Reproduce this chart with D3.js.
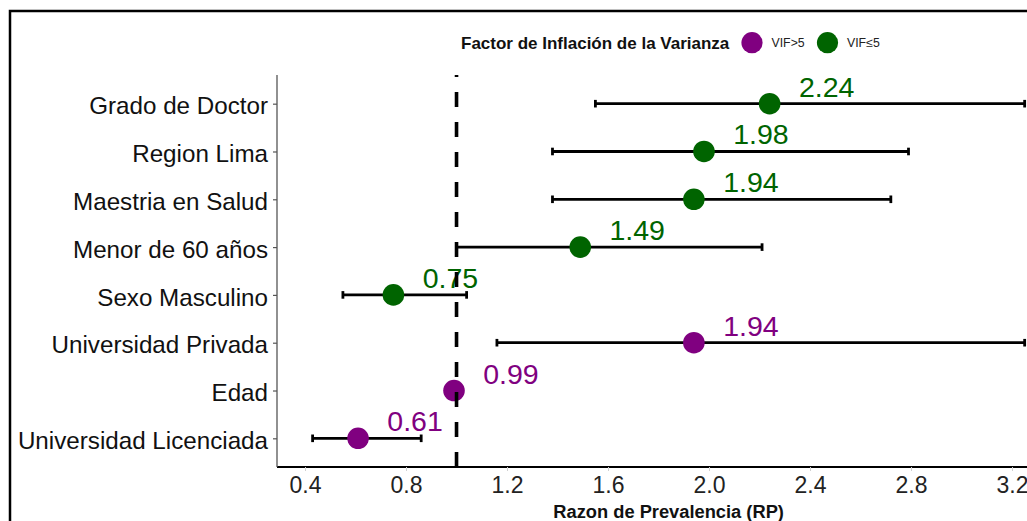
<!DOCTYPE html>
<html>
<head>
<meta charset="utf-8">
<script src="https://cdn.jsdelivr.net/npm/d3@7"></script>
<style>
  html, body { margin: 0; padding: 0; background: #fff; overflow: hidden; }
  svg { display: block; font-family: "Liberation Sans", Arial, sans-serif; }
</style>
</head>
<body>
<svg id="chart" width="1027" height="521"></svg>
<script>
// ---- data ----
const categories = ["Grado de Doctor", "Region Lima", "Maestria en Salud", "Menor de 60 años",
                    "Sexo Masculino", "Universidad Privada", "Edad", "Universidad Licenciada"];
const rp    = [2.24, 1.98, 1.94, 1.49, 0.75, 1.94, 0.99, 0.61];
const lower = [1.55, 1.38, 1.38, 1.00, 0.55, 1.16, 0.98, 0.43];
const upper = [3.25, 2.79, 2.72, 2.21, 1.04, 3.25, 1.00, 0.86];
const vif   = ["VIF≤5", "VIF≤5", "VIF≤5", "VIF≤5", "VIF≤5", "VIF>5", "VIF>5", "VIF>5"];
const vifLevels = ["VIF>5", "VIF≤5"];
const vifColors = ["#800080", "#006400"];
const xTicks = [0.4, 0.8, 1.2, 1.6, 2.0, 2.4, 2.8, 3.2];
const refValue = 1;

const rows = categories.map((c, i) => ({cat: c, rp: rp[i], lo: lower[i], hi: upper[i], vif: vif[i]}));

const svg = d3.select("#chart");
svg.append("rect").attr("width", 1027).attr("height", 521).attr("fill", "#fff");
// outer border
svg.append("rect").attr("x", 10).attr("y", 11).attr("width", 1200).attr("height", 700)
   .attr("fill", "none").attr("stroke", "#000").attr("stroke-width", 2.5);

const pLeft = 277, pTop = 75, pBottom = 467;
const minV = d3.min(lower), maxV = d3.max(upper);
const ext = (maxV - minV) * 0.05;
const x = d3.scaleLinear().domain([minV - ext, maxV + ext]).range([pLeft, pLeft + (maxV - minV + 2 * ext) * 252.5]);
const pRight = x.range()[1];
const y = d3.scalePoint().domain(categories).range([pTop, pBottom]).padding(0.6);
const color = d3.scaleOrdinal().domain(vifLevels).range(vifColors);

// x axis
const xAxis = svg.append("g").attr("transform", `translate(0,${pBottom})`)
  .call(d3.axisBottom(x).tickValues(xTicks).tickFormat(d3.format(".1f")).tickSize(4).tickPadding(6));
xAxis.select(".domain").attr("stroke", "#000").attr("stroke-width", 2)
  .attr("d", `M${pLeft},0H${pRight}`);
xAxis.selectAll(".tick line").attr("stroke", "#d0d0d0").attr("stroke-width", 1);
xAxis.selectAll(".tick text").attr("font-size", 23).attr("fill", "#222")
  .attr("font-family", "'Liberation Sans', Arial, sans-serif");

// y axis
const yAxis = svg.append("g").attr("transform", `translate(${pLeft},0)`)
  .call(d3.axisLeft(y).tickSize(4).tickPadding(5));
yAxis.select(".domain").attr("stroke", "#555").attr("stroke-width", 1.3)
  .attr("d", `M0,${pTop}V${pBottom}`);
yAxis.selectAll(".tick line").attr("stroke", "#555").attr("stroke-width", 1.2);
yAxis.selectAll(".tick text").attr("font-size", 24.2).attr("fill", "#111").attr("dy", "0.42em")
  .attr("font-family", "'Liberation Sans', Arial, sans-serif");

// error bars
const eb = svg.append("g").attr("stroke", "#000").attr("stroke-width", 2.8);
eb.selectAll("line.bar").data(rows).join("line").attr("class", "bar")
  .attr("x1", d => x(d.lo)).attr("x2", d => x(d.hi))
  .attr("y1", d => y(d.cat)).attr("y2", d => y(d.cat));
eb.selectAll("line.capL").data(rows).join("line").attr("class", "capL")
  .attr("x1", d => x(d.lo)).attr("x2", d => x(d.lo))
  .attr("y1", d => y(d.cat) - 3.8).attr("y2", d => y(d.cat) + 3.8);
eb.selectAll("line.capR").data(rows).join("line").attr("class", "capR")
  .attr("x1", d => x(d.hi)).attr("x2", d => x(d.hi))
  .attr("y1", d => y(d.cat) - 3.8).attr("y2", d => y(d.cat) + 3.8);

// points
svg.append("g").selectAll("circle").data(rows).join("circle")
  .attr("cx", d => x(d.rp)).attr("cy", d => y(d.cat)).attr("r", 10.8)
  .attr("fill", d => color(d.vif));

// value labels
svg.append("g").selectAll("text").data(rows).join("text")
  .attr("x", d => x(d.rp) + 57).attr("y", d => y(d.cat) - 7)
  .attr("text-anchor", "middle").attr("font-size", 28.5)
  .attr("fill", d => color(d.vif)).text(d => d3.format(".2f")(d.rp));

// reference dashed line (drawn bottom to top)
svg.append("line").attr("x1", x(refValue)).attr("x2", x(refValue))
  .attr("y1", pBottom).attr("y2", pTop)
  .attr("stroke", "#000").attr("stroke-width", 3.6).attr("stroke-dasharray", "15,15");

// x axis title
svg.append("text").attr("x", (pLeft + pRight) / 2).attr("y", 517.5)
  .attr("text-anchor", "middle").attr("font-size", 18.3).attr("font-weight", "bold")
  .attr("fill", "#111").text("Razon de Prevalencia (RP)");

// legend
const lg = svg.append("g");
lg.append("text").attr("x", 461).attr("y", 48.5).attr("font-size", 17).attr("font-weight", "bold")
  .attr("fill", "#111").text("Factor de Inflación de la Varianza");
const legendX = [752, 827.5];
vifLevels.forEach((lv, i) => {
  lg.append("circle").attr("cx", legendX[i]).attr("cy", 42.7).attr("r", 10.6).attr("fill", color(lv));
  lg.append("text").attr("x", legendX[i] + 19.5).attr("y", 47).attr("font-size", 12.3)
    .attr("fill", "#222").text(lv);
});
</script>
</body>
</html>
